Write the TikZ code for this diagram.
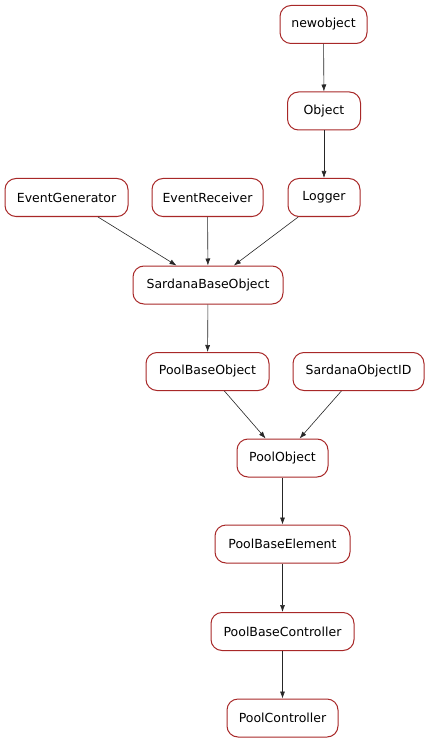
\documentclass[tikz,border=0pt]{standalone}
\usepackage{fontspec}
\setmainfont{DejaVu Sans}
\usetikzlibrary{arrows.meta}
\definecolor{nodeborder}{HTML}{A82828}
\tikzset{
  cls/.style={draw=nodeborder, line width=1pt, rounded corners=11pt, fill=white,
    minimum height=38pt, inner sep=0pt, font=\fontsize{12.5}{14}\selectfont, text=black},
  edge/.style={draw=black!85, line width=0.6pt, -{Latex[length=7pt,width=5pt]}}
}
\begin{document}
\begin{tikzpicture}[x=1pt,y=-1pt]
\useasboundingbox[fill=white] (0,0) rectangle (429,743);
\node[cls, minimum width=87pt] (newobject) at (323.5,24.5) {newobject};
\node[cls, minimum width=73pt] (object) at (324,111) {Object};
\node[cls, minimum width=123pt] (eventgen) at (66.5,197.5) {EventGenerator};
\node[cls, minimum width=111pt] (eventrec) at (207.5,197.5) {EventReceiver};
\node[cls, minimum width=72pt] (logger) at (324,197.5) {Logger};
\node[cls, minimum width=150pt] (sbo) at (208,285) {SardanaBaseObject};
\node[cls, minimum width=123pt] (pbo) at (207.5,371.5) {PoolBaseObject};
\node[cls, minimum width=131pt] (soid) at (358.5,371.5) {SardanaObjectID};
\node[cls, minimum width=91pt] (po) at (282.5,458) {PoolObject};
\node[cls, minimum width=135pt] (pbe) at (282.5,544) {PoolBaseElement};
\node[cls, minimum width=143pt] (pbc) at (282.5,631.5) {PoolBaseController};
\node[cls, minimum width=111pt] (pc) at (282.5,718) {PoolController};
\draw[edge] (newobject) -- (object);
\draw[edge] (object) -- (logger);
\draw[edge] (eventgen) -- (sbo);
\draw[edge] (eventrec) -- (sbo);
\draw[edge] (logger) -- (sbo);
\draw[edge] (sbo) -- (pbo);
\draw[edge] (pbo) -- (po);
\draw[edge] (soid) -- (po);
\draw[edge] (po) -- (pbe);
\draw[edge] (pbe) -- (pbc);
\draw[edge] (pbc) -- (pc);
\end{tikzpicture}
\end{document}
